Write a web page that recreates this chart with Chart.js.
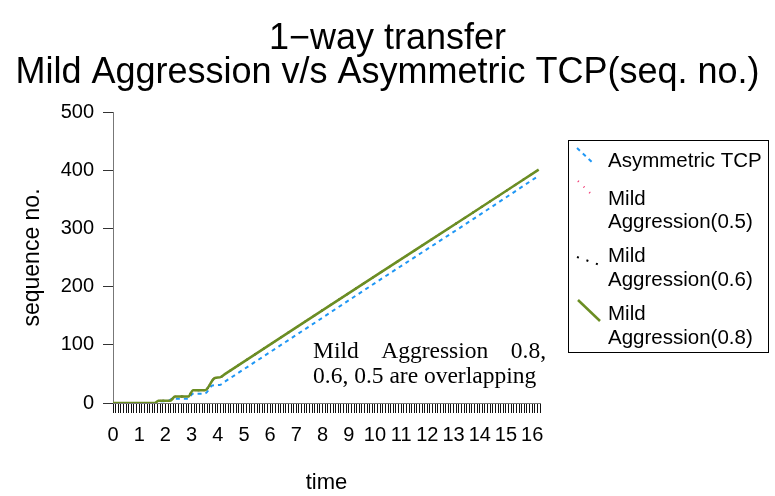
<!DOCTYPE html>
<html>
<head>
<meta charset="utf-8">
<script src="https://cdn.jsdelivr.net/npm/chart.js@4.4.1/dist/chart.umd.min.js"></script>
<style>
  html, body { margin: 0; padding: 0; background: #fff; }
</style>
</head>
<body>
<canvas id="seqChart" width="775" height="496"></canvas>
<script>
// values (time in s, sequence no.)
var tcpTime = [0, 1.6, 1.75, 2.1, 2.25, 2.87, 3.05, 3.5, 3.8, 4.08, 4.3, 7.1, 10, 13.75, 16.2];
var tcpSeq  = [0, 0, 3, 3, 7.5, 7.5, 16, 16, 30, 31, 37.5, 120, 206, 316, 389];

var maTime  = [0, 1.6, 1.73, 2.18, 2.37, 2.87, 3.06, 3.51, 3.89, 4.08, 4.3, 7.1, 10, 13.6, 16.25];
var ma05Seq = [0, 0, 4, 4, 11, 11, 22, 22, 43, 44, 50.5, 133, 218, 323, 401];
var ma06Seq = [0, 0, 4, 4, 11, 11, 22, 22, 43, 44, 50.5, 133, 218, 323, 401];
var ma08Seq = [0, 0, 4, 4, 11, 11, 22, 22, 43, 44, 50.5, 133, 218, 323, 401];

var seriesNames = ['Asymmetric TCP', 'Mild\nAggression(0.5)', 'Mild\nAggression(0.6)', 'Mild\nAggression(0.8)'];
var xMajor = [0, 1, 2, 3, 4, 5, 6, 7, 8, 9, 10, 11, 12, 13, 14, 15, 16];
var yTicks = [0, 100, 200, 300, 400, 500];
var titleLines = ['1\u2212way transfer', 'Mild Aggression v/s Asymmetric TCP(seq. no.)'];
var noteLines = ['Mild Aggression 0.8,', '0.6, 0.5 are overlapping'];

function pts(xs, ys) {
  return xs.map(function(x, i) { return { x: x, y: ys[i] }; });
}

var sans = '"Liberation Sans", Arial, sans-serif';

// two line title centred on the whole page (the chart area is pushed left by the legend)
var pageTitle = {
  id: 'pageTitle',
  afterDraw: function(chart) {
    var ctx = chart.ctx;
    ctx.save();
    ctx.fillStyle = '#000';
    ctx.font = '36px ' + sans;
    ctx.textAlign = 'center';
    ctx.textBaseline = 'alphabetic';
    ctx.fillText(titleLines[0], 387.5, 49);
    ctx.fillText(titleLines[1], 387.5, 83);
    ctx.restore();
  }
};

// legend on the right, R style with slanted samples
var sideLegend = {
  id: 'sideLegend',
  afterDraw: function(chart) {
    var ctx = chart.ctx;
    var rows = [[161], [199, 222], [256, 280], [314, 338]];
    var samples = [[577, 148, 593, 163], [578, 181, 592, 195], [577, 257, 600, 265], [578, 300, 600, 321]];
    ctx.save();
    ctx.strokeStyle = '#000';
    ctx.lineWidth = 1;
    ctx.strokeRect(568.5, 140.5, 200, 212);
    chart.data.datasets.forEach(function(ds, i) {
      var s = samples[i];
      ctx.beginPath();
      ctx.setLineDash(ds.borderDash || []);
      ctx.strokeStyle = ds.borderColor;
      ctx.lineWidth = ds.borderWidth;
      ctx.moveTo(s[0], s[1]);
      ctx.lineTo(s[2], s[3]);
      ctx.stroke();
      ctx.setLineDash([]);
      ctx.fillStyle = '#000';
      ctx.font = '20.5px ' + sans;
      ctx.textBaseline = 'middle';
      ds.label.split('\n').forEach(function(line, j) {
        ctx.fillText(line, 608, rows[i][j]);
      });
    });
    ctx.restore();
  }
};

// the serif note inside the plot, first line justified
var overlapNote = {
  id: 'overlapNote',
  afterDraw: function(chart) {
    var ctx = chart.ctx;
    var left = 313, right = 546;
    ctx.save();
    ctx.fillStyle = '#000';
    ctx.font = '23.5px "Liberation Serif", "Times New Roman", serif';
    ctx.textBaseline = 'alphabetic';
    var words = noteLines[0].split(' ');
    var total = words.reduce(function(s, w) { return s + ctx.measureText(w).width; }, 0);
    var gap = (right - left - total) / (words.length - 1);
    var x = left;
    words.forEach(function(w) {
      ctx.fillText(w, x, 358);
      x += ctx.measureText(w).width + gap;
    });
    ctx.fillText(noteLines[1], left, 383);
    ctx.restore();
  }
};

new Chart(document.getElementById('seqChart'), {
  type: 'line',
  data: {
    datasets: [
      { label: seriesNames[0], data: pts(tcpTime, tcpSeq), borderColor: '#1f97f5', borderWidth: 2, borderDash: [4, 4], order: 3 },
      { label: seriesNames[1], data: pts(maTime, ma05Seq), borderColor: '#f0306e', borderWidth: 2, borderDash: [1, 7], order: 2 },
      { label: seriesNames[2], data: pts(maTime, ma06Seq), borderColor: '#000000', borderWidth: 2, borderDash: [2, 8], order: 1 },
      { label: seriesNames[3], data: pts(maTime, ma08Seq), borderColor: '#6b8e23', borderWidth: 2.5, order: 0 }
    ]
  },
  options: {
    responsive: false,
    animation: false,
    cubicInterpolationMode: 'monotone',
    elements: { point: { radius: 0 } },
    layout: { padding: { left: 0, right: 235, top: 112, bottom: 0 } },
    plugins: {
      legend: { display: false },
      tooltip: { enabled: false },
      title: { display: false }
    },
    scales: {
      x: {
        type: 'linear',
        min: 0,
        max: 16.3,
        afterFit: function(scale) { scale.height = 93; },
        border: { display: true, color: '#777', width: 1 },
        grid: { display: true, drawOnChartArea: false, drawTicks: true, tickLength: 10, color: '#111' },
        ticks: {
          stepSize: 0.1,
          maxTicksLimit: 1000,
          autoSkip: false,
          maxRotation: 0,
          padding: 10,
          color: '#000',
          font: { family: sans, size: 20 },
          callback: function(v) {
            var r = Math.round(v);
            return (Math.abs(v - r) < 1e-6 && xMajor.indexOf(r) >= 0) ? String(r) : '';
          }
        },
        title: { display: true, text: 'time', color: '#000', font: { family: sans, size: 22 }, padding: { top: 0, bottom: 0 } }
      },
      y: {
        min: 0,
        max: 500,
        afterFit: function(scale) { scale.width = 113; },
        afterBuildTicks: function(scale) { scale.ticks = yTicks.map(function(v) { return { value: v }; }); },
        border: { display: true, color: '#777', width: 1 },
        grid: { display: true, drawOnChartArea: false, drawTicks: true, tickLength: 10, color: '#333' },
        ticks: { padding: 9, color: '#000', font: { family: sans, size: 20 } },
        title: { display: true, text: 'sequence no.', color: '#000', font: { family: sans, size: 23 }, padding: { top: 19, bottom: 0 } }
      }
    }
  },
  plugins: [pageTitle, sideLegend, overlapNote]
});
</script>
</body>
</html>
